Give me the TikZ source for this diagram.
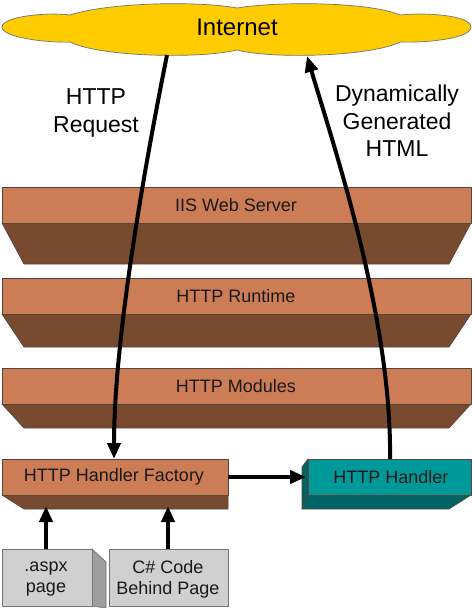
\documentclass[tikz,border=0pt]{standalone}
\usepackage{fontspec}
\setmainfont{Liberation Sans}
\usetikzlibrary{arrows.meta}
\definecolor{cloudy}{RGB}{255,204,0}
\definecolor{facetop}{RGB}{205,125,85}
\definecolor{facedark}{RGB}{120,75,48}
\definecolor{tealtop}{RGB}{0,153,153}
\definecolor{tealdark}{RGB}{0,98,98}
\definecolor{grayfront}{RGB}{208,208,208}
\definecolor{grayside}{RGB}{158,158,158}
\definecolor{edgec}{RGB}{85,70,60}
\tikzset{
  face/.style={draw=edgec, line width=0.7pt, line join=round},
  toptext/.style={font=\fontsize{18}{22}\selectfont, text=black!90, inner sep=0pt},
  bigtext/.style={font=\fontsize{23}{28}\selectfont, align=center, inner sep=0pt},
  pagetext/.style={font=\fontsize{18}{21}\selectfont, align=center, inner sep=0pt, text=black!90},
  flow/.style={line width=4pt, -{Triangle[length=16pt,width=13pt]}},
}
\begin{document}
\begin{tikzpicture}[x=1pt,y=-1pt]
\useasboundingbox (0,0) rectangle (473,608);
% cloud
\path[fill=cloudy, draw=black!55, line width=0.7pt]
  (2,27) .. controls (2,16) and (50,12) .. (70,15)
  .. controls (110,2) and (200,1) .. (237,8)
  .. controls (280,1) and (370,2) .. (400,15)
  .. controls (430,12) and (471,16) .. (471,27)
  .. controls (471,38) and (430,43) .. (400,42)
  .. controls (370,57) and (270,59) .. (237,50)
  .. controls (200,59) and (100,57) .. (70,42)
  .. controls (50,43) and (2,38) .. (2,27) -- cycle;
\node[font=\fontsize{24}{28}\selectfont, inner sep=0pt] (internet) at (237,27) {Internet};
\coordinate (reqstart) at (167,55);
\coordinate (resend) at (307,56);
% labels
\node[bigtext] (reqlabel) at (96,113) {HTTP\\Request};
\node[bigtext, font=\fontsize{23}{27.5}\selectfont] (reslabel) at (397,121) {Dynamically\\Generated\\HTML};
% layers
\path[face, fill=facedark] (2,223) -- (471,223) -- (449,264) -- (24,264) -- cycle;
\path[face, fill=facetop] (2,187) rectangle (471,223);
\node[toptext] (iis) at (236,205) {IIS Web Server};
\path[face, fill=facedark] (2,314) -- (471,314) -- (449,347) -- (24,347) -- cycle;
\path[face, fill=facetop] (2,278) rectangle (471,314);
\node[toptext] (runtime) at (236,296) {HTTP Runtime};
\path[face, fill=facedark] (2,404) -- (471,404) -- (449,428) -- (24,428) -- cycle;
\path[face, fill=facetop] (2,368) rectangle (471,404);
\node[toptext] (modules) at (236,386) {HTTP Modules};
% handler factory
\path[face, fill=facedark] (2,495) -- (228,495) -- (228,509) -- (24,509) -- cycle;
\path[face, fill=facetop] (2,459) rectangle (228,495);
\node[toptext] (factory) at (114,477) {HTTP Handler Factory};
% handler
\path[face, fill=tealdark] (302,467) -- (308,459) -- (308,495) -- (302,509) -- cycle;
\path[face, fill=tealdark] (302,509) -- (308,495) -- (471,495) -- (449,509) -- cycle;
\path[face, fill=tealtop] (308,459) rectangle (471,495);
\node[toptext] (handler) at (391,477) {HTTP Handler};
% pages
\path[face, fill=grayside, draw=black!55] (92,549) -- (106,562) -- (106,608) -- (92,606) -- cycle;
\path[face, fill=grayfront, draw=black!55] (2,549) rectangle (92,606);
\node[pagetext] (aspx) at (46,579) {.aspx\\page};
\path[face, fill=grayfront, draw=black!55] (109,549) rectangle (228,606);
\node[pagetext] (code) at (168,579) {C\# Code\\Behind Page};
% connectors
\coordinate (facin) at (114,459);
\coordinate (handout) at (390,459);
\coordinate (facright) at (228,477);
\coordinate (handleft) at (306,477);
\coordinate (aspxtop) at (46,549);
\coordinate (codetop) at (168,549);
\coordinate (facbot1) at (46,506);
\coordinate (facbot2) at (168,506);
\draw[flow] (reqstart) .. controls (150,140) and (114,330) .. (facin);
\draw[flow] (handout) .. controls (392,320) and (335,150) .. (resend);
\draw[flow] (facright) -- (handleft);
\draw[flow] (aspxtop) -- (facbot1);
\draw[flow] (codetop) -- (facbot2);
\end{tikzpicture}
\end{document}
